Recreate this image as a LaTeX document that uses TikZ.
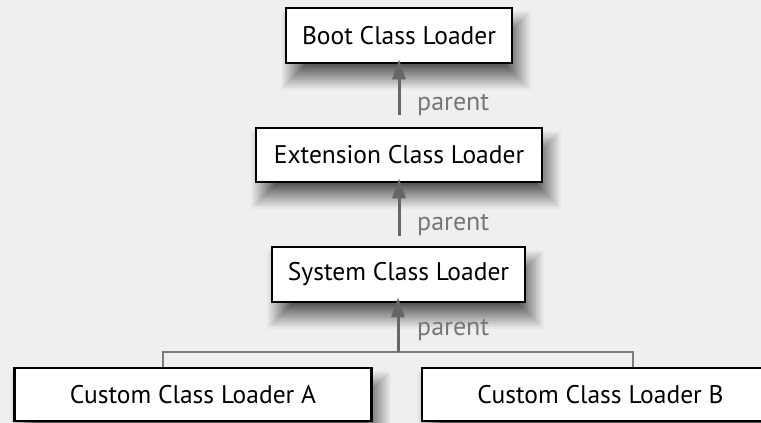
\documentclass[tikz,border=0pt]{standalone}
\usepackage{fontspec}
\setmainfont{PT Sans}
\usetikzlibrary{arrows.meta}
\definecolor{bg}{HTML}{EFEFEF}
\definecolor{arrowgray}{HTML}{666666}
\definecolor{labelgray}{HTML}{777777}
\definecolor{linegray}{HTML}{7C7C7C}
\tikzset{
  loaderbox/.style={draw=black, line width=2.6pt, fill=white, inner sep=0pt,
    font=\fontsize{25.5}{28}\selectfont, text=black},
  parentarrow/.style={draw=arrowgray, line width=3pt, -{Triangle[length=20pt,width=13pt]}},
  parentlabel/.style={font=\fontsize{26}{28}\selectfont, text=labelgray, anchor=base west, inner sep=0pt},
  branch/.style={draw=linegray, line width=2.4pt}
}
% soft shadow: #1 cx, #2 cy, #3 w, #4 h (picture units, y downwards)
\newcommand\softshadow[4]{%
  \foreach \i in {0,...,12} {
    \pgfmathsetmacro\e{12-2*\i}
    \pgfmathtruncatemacro\p{3+5*\i}
    \pgfmathsetmacro\xa{#1-#3/2+7-\e}
    \pgfmathsetmacro\xb{#1+#3/2+7+\e}
    \pgfmathsetmacro\ya{#2-#4/2+15-\e}
    \pgfmathsetmacro\yb{#2+#4/2+15+\e}
    \fill[black!\p!bg] (\xa,\ya) rectangle (\xb,\yb);
  }}
\begin{document}
\begin{tikzpicture}[x=1pt,y=-1pt]
\fill[bg] (0,0) rectangle (761,423);
\useasboundingbox (0,0) rectangle (761,423);
\softshadow{399}{35.5}{226}{55}
\softshadow{399}{155}{286}{54}
\softshadow{398.5}{274.5}{253}{55}
\softshadow{193}{394.5}{357}{53}
\softshadow{600.5}{394.5}{357}{53}
\node[loaderbox, minimum width=226pt, minimum height=55pt] (boot) at (399,35.5) {Boot Class Loader};
\node[loaderbox, minimum width=286pt, minimum height=54pt] (ext) at (399,155) {Extension Class Loader};
\node[loaderbox, minimum width=253pt, minimum height=55pt] (sys) at (398.5,274.5) {System Class Loader};
\node[loaderbox, minimum width=357pt, minimum height=53pt] (ca) at (193,394.5) {Custom Class Loader A};
\node[loaderbox, minimum width=357pt, minimum height=53pt] (cb) at (600.5,394.5) {Custom Class Loader B};
% connectors
\coordinate (j) at (398,352);
\coordinate (jl) at (163,352);
\coordinate (jr) at (633,352);
\draw[branch] (ca.north -| jl) -- (jl) -- (jr) -- (cb.north -| jr);
\coordinate (a1) at (399,115);
\coordinate (a2) at (399,236);
\draw[parentarrow] (a1) -- ([yshift=5pt]boot.south -| a1);
\draw[parentarrow] (a2) -- ([yshift=5pt]ext.south -| a2);
\draw[parentarrow] (j) -- ([yshift=6pt]sys.south -| j);
\node[parentlabel] (l1) at (417,110) {parent};
\node[parentlabel] (l2) at (417,230) {parent};
\node[parentlabel] (l3) at (417,335) {parent};
\end{tikzpicture}
\end{document}
